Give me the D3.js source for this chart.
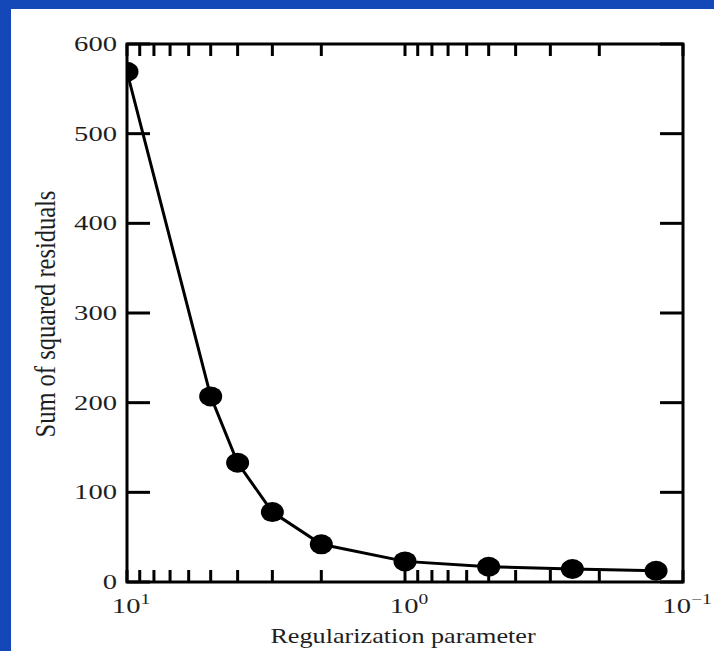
<!DOCTYPE html>
<html>
<head>
<meta charset="utf-8">
<script src="https://cdn.jsdelivr.net/npm/d3@7"></script>
<style>
  html, body { margin: 0; padding: 0; background: #1447b8; }
  svg { display: block; }
  text { font-family: "Liberation Serif", "Times New Roman", serif; fill: #1e1e1e; }
</style>
</head>
<body>
<div id="chart"></div>
<script>
// regularization parameter and sum of squared residuals
const lambdas = [10, 5, 4, 3, 2, 1, 0.5, 0.25, 0.125];
const residuals = [569, 207, 133, 78, 42, 23, 17, 14.5, 12.5];
const yTicks = [0, 100, 200, 300, 400, 500, 600];
const xLabels = [{ v: 10, exp: '1' }, { v: 1, exp: '0' }, { v: 0.1, exp: '\u22121' }];

const W = 714, H = 651;
const margin = { top: 44, right: 31, bottom: 69, left: 127 };
const width = W - margin.left - margin.right;
const height = H - margin.top - margin.bottom;
const stretch = 1.3;

const svg = d3.select('#chart').append('svg')
  .attr('width', W)
  .attr('height', H);

// white panel on the blue slide
svg.append('rect')
  .attr('x', 11).attr('y', 9)
  .attr('width', W - 11).attr('height', H - 9)
  .attr('fill', '#fff');

const g = svg.append('g')
  .attr('transform', 'translate(' + margin.left + ',' + margin.top + ')');

const x = d3.scaleLog().domain([10, 0.1]).range([0, width]);
const y = d3.scaleLinear().domain([0, 600]).range([height, 0]);

g.append('clipPath').attr('id', 'clip')
  .append('rect').attr('width', width).attr('height', height);

// x ticks, inward on top and bottom
const xt = x.ticks();
g.selectAll('.xtick-b').data(xt).enter().append('line')
  .attr('x1', d => x(d)).attr('x2', d => x(d))
  .attr('y1', height).attr('y2', height - 12)
  .attr('stroke', '#000').attr('stroke-width', 3);
g.selectAll('.xtick-t').data(xt).enter().append('line')
  .attr('x1', d => x(d)).attr('x2', d => x(d))
  .attr('y1', 0).attr('y2', 12)
  .attr('stroke', '#000').attr('stroke-width', 3);

// y ticks, inward on left and right
g.selectAll('.ytick-l').data(yTicks).enter().append('line')
  .attr('x1', 0).attr('x2', 23)
  .attr('y1', d => y(d)).attr('y2', d => y(d))
  .attr('stroke', '#000').attr('stroke-width', 3);
g.selectAll('.ytick-r').data(yTicks).enter().append('line')
  .attr('x1', width - 23).attr('x2', width)
  .attr('y1', d => y(d)).attr('y2', d => y(d))
  .attr('stroke', '#000').attr('stroke-width', 3);

g.append('rect')
  .attr('width', width).attr('height', height)
  .attr('fill', 'none').attr('stroke', '#000').attr('stroke-width', 3);

// y tick labels
g.selectAll('.ylab').data(yTicks).enter().append('text')
  .attr('transform', d => 'translate(-10,' + (y(d) + 7) + ') scale(' + stretch + ',1)')
  .attr('text-anchor', 'end')
  .style('font-size', '22px')
  .text(d => d);

// x tick labels with superscripts
const xl = g.selectAll('.xlab').data(xLabels).enter().append('text')
  .attr('transform', d => 'translate(' + (x(d.v) + 4) + ',' + (height + 31) + ') scale(' + stretch + ',1)')
  .attr('text-anchor', 'middle')
  .style('font-size', '22px');
xl.append('tspan').text('10');
xl.append('tspan').attr('dy', -9).style('font-size', '15px').text(d => d.exp);

// axis titles
g.append('text')
  .attr('transform', 'translate(' + (width / 2 - 2) + ',' + (height + 61) + ') scale(1.19,1)')
  .attr('text-anchor', 'middle')
  .style('font-size', '22px')
  .text('Regularization parameter');

g.append('text')
  .attr('transform', 'translate(' + (-72) + ',' + (height / 2 + 1) + ') scale(1.19,1) rotate(-90)')
  .attr('text-anchor', 'middle')
  .style('font-size', '24.5px')
  .text('Sum of squared residuals');

// curve and points
const pts = lambdas.map((l, i) => ({ l: l, r: residuals[i] }));
const plot = g.append('g').attr('clip-path', 'url(#clip)');

plot.append('path')
  .datum(pts)
  .attr('fill', 'none')
  .attr('stroke', '#000')
  .attr('stroke-width', 3)
  .attr('d', d3.line().x(d => x(d.l)).y(d => y(d.r)));

plot.selectAll('.pt').data(pts).enter().append('ellipse')
  .attr('cx', d => x(d.l)).attr('cy', d => y(d.r))
  .attr('rx', 11.5).attr('ry', 10)
  .attr('fill', '#000');
</script>
</body>
</html>
